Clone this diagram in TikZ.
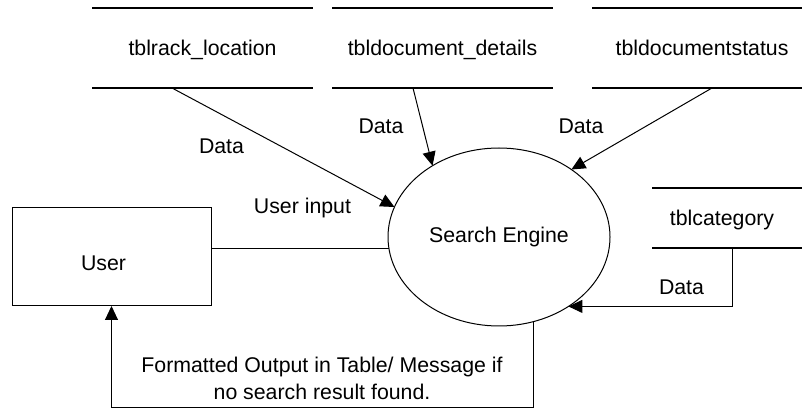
\documentclass[tikz,border=0pt]{standalone}
\usepackage{fontspec}
\setmainfont{Liberation Sans}
\usetikzlibrary{arrows.meta,shapes.geometric}

\begin{document}
\begin{tikzpicture}[x=1pt,y=1pt,
  every node/.style={font=\fontsize{21.3}{27}\selectfont, inner sep=0pt, outer sep=0pt},
  store/.style={minimum height=80pt, text height=15.3pt, text depth=0pt},
  storeline/.style={line width=1.7pt},
  flow/.style={line width=1pt},
  arrowflow/.style={flow, -{Triangle[length=14pt,width=13pt]}}
]
\useasboundingbox (0,0) rectangle (802,412);
\coordinate (edge) at (802,0);
\coordinate (low) at (0,5);

% data stores
\node[store, minimum width=221pt] (s1) at (202.5,364) {tblrack\_location};
\node[store, minimum width=221pt] (s2) at (442.5,364) {tbldocument\_details};
\node[store, minimum width=220pt] (s3) at (702,364) {tbldocumentstatus};
\node[store, minimum height=60pt, minimum width=140pt] (s4) at (722,194) {tblcategory};

\foreach \s in {s1,s2}{
  \draw[storeline] (\s.north west) -- (\s.north east);
  \draw[storeline] (\s.south west) -- (\s.south east);
}
\foreach \s in {s3,s4}{
  \draw[storeline] (\s.north west) -- (\s.north west -| edge);
  \draw[storeline] (\s.south west) -- (\s.south west -| edge);
}

% process and external entity
\node[ellipse, draw, flow, minimum width=222pt, minimum height=178pt] (se) at (499,175) {Search Engine};
\node[draw, flow, minimum width=199pt, minimum height=98pt] (user) at (111.5,155) {};
\node (userlbl) at (103.5,149) {User};

% data flows
\draw[arrowflow] ([xshift=-30.5pt]s1.south) -- (se.164);
\draw[arrowflow] ([xshift=-29.5pt]s2.south) -- (se.133);
\draw[arrowflow] ([xshift=10pt]s3.south) -- (se.43);
\draw[arrowflow] ([xshift=10pt]s4.south) |- (se.-45);
\draw[flow] (user.east |- se.186) -- (se.186);
\draw[arrowflow] (se.-68) |- (user.south |- low) -- (user.south);

% flow labels
\node (l1) at (221.5,266) {Data};
\node (l2) at (381,285.5) {Data};
\node (l3) at (581,285.5) {Data};
\node (l4) at (681.5,124.5) {Data};
\node (l5) at (302.5,204) {User input};
\node[align=center] (l6) at (322,34) {Formatted Output in Table/ Message if\\ no search result found.};
\end{tikzpicture}
\end{document}
